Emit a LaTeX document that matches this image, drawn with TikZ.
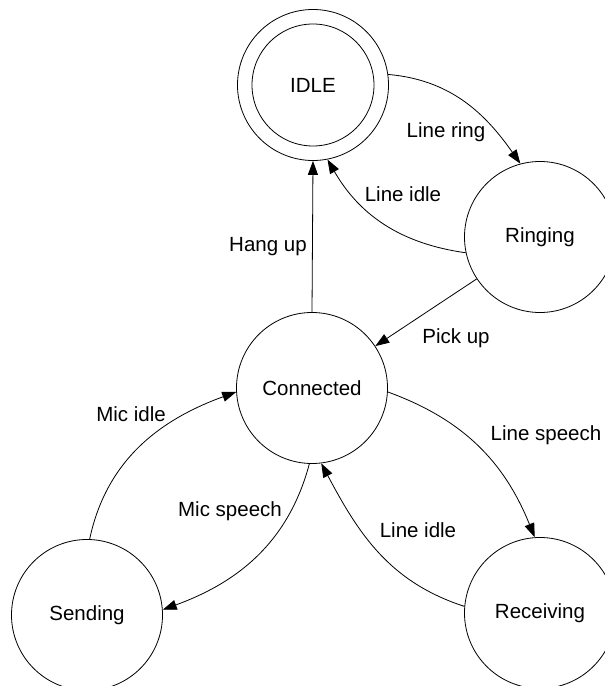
\documentclass[tikz,border=0pt]{standalone}
\usepackage{fontspec}
\setmainfont{Liberation Sans}
\usetikzlibrary{arrows.meta}
\begin{document}
\begin{tikzpicture}[x=1pt,y=1pt,
  state/.style={circle,draw,line width=0.8pt,minimum size=151pt,inner sep=0pt,font=\fontsize{20.5}{24}\selectfont},
  innerstate/.style={circle,draw,line width=0.8pt,minimum size=122pt,inner sep=0pt,font=\fontsize{20.5}{24}\selectfont},
  lbl/.style={font=\fontsize{20.5}{24}\selectfont,inner sep=0pt},
  trans/.style={line width=0.8pt,-{Triangle[length=14pt,width=10pt]}}]
\useasboundingbox (0,0) rectangle (605,686);
\clip (0,0) rectangle (605,686);
% states
\node[state] (idle) at (313,601) {};
\node[innerstate] (idlein) at (313,601) {IDLE};
\node[state] (ringing) at (540,449) {Ringing};
\node[state] (connected) at (312,298) {Connected};
\node[state] (sending) at (87,71) {Sending};
\node[state] (receiving) at (540,73) {Receiving};
% transitions
\draw[trans] (idle.8) to[out=-5,in=125] (ringing.105);
\draw[trans] (ringing.192) to[out=172,in=-60] (idle.-79);
\draw[trans] (connected.north) -- (idle.south);
\draw[trans] (ringing) -- (connected);
\draw[trans] (connected.-3) to[out=-20,in=112] (receiving.94);
\draw[trans] (receiving.175) to[out=162,in=-62] (connected.-83);
\draw[trans] (connected.-92) to[out=-105,in=20] (sending.4);
\draw[trans] (sending.88) to[out=78,in=200] (connected.183);
% labels
\node[lbl] (lhang) at (268,439) {Hang up};
\node[lbl] (lring) at (446,554) {Line ring};
\node[lbl] (lidle1) at (403,492) {Line idle};
\node[lbl] (lpick) at (456,348) {Pick up};
\node[lbl] (lspeech) at (546,251) {Line speech};
\node[lbl] (lidle2) at (418,156) {Line idle};
\node[lbl] (lmicsp) at (230,175) {Mic speech};
\node[lbl] (lmicid) at (131,272) {Mic idle};
\end{tikzpicture}
\end{document}
